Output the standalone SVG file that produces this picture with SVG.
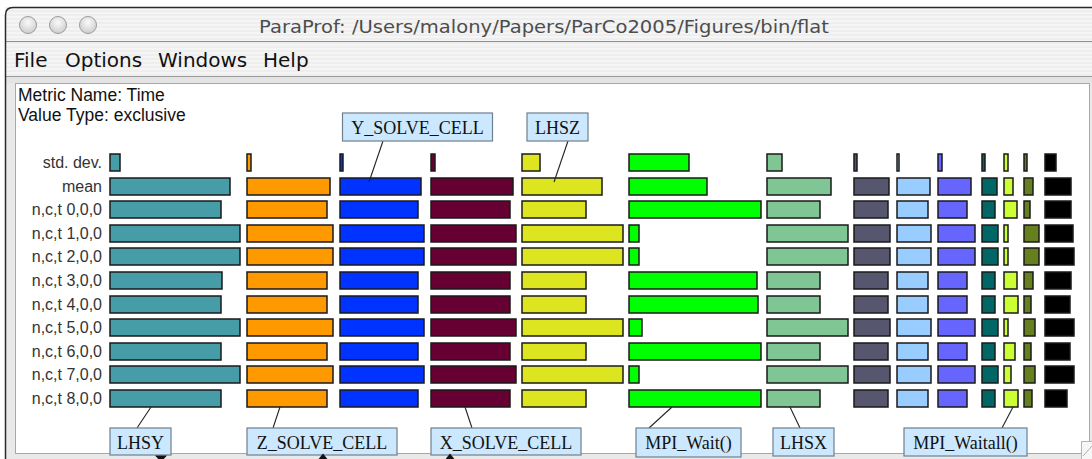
<svg xmlns="http://www.w3.org/2000/svg" width="1092" height="459" viewBox="0 0 1092 459">
  <defs>
    <pattern id="stripes" width="4" height="4" patternUnits="userSpaceOnUse">
      <rect width="4" height="4" fill="#EEEEEE"/>
      <rect width="4" height="2" fill="#F5F5F5"/>
    </pattern>
    <radialGradient id="knob" cx="0.5" cy="0.35" r="0.7">
      <stop offset="0" stop-color="#FAFAFA"/>
      <stop offset="1" stop-color="#C9C9C9"/>
    </radialGradient>
  </defs>
  <style>
    .b { stroke: #1A1A1A; stroke-width: 1.5; }
    .c1 { fill: #479DA7; } .c2 { fill: #FF9900; } .c3 { fill: #0033FF; }
    .c4 { fill: #660033; } .c5 { fill: #DDE520; } .c6 { fill: #00FF00; }
    .c7 { fill: #7FC694; } .c8 { fill: #56566E; } .c9 { fill: #99CCFF; }
    .c10 { fill: #6666FF; } .c11 { fill: #006666; } .c12 { fill: #CCFF33; }
    .c13 { fill: #667F1F; } .c14 { fill: #000000; }
    .row { font-family: "Liberation Sans", Arial, sans-serif; font-size: 16px; fill: #333333; text-anchor: end; }
    .hdr { font-family: "Liberation Sans", Arial, sans-serif; font-size: 17.5px; fill: #111111; }
    .menu { font-family: "DejaVu Sans", sans-serif; font-size: 20px; fill: #111111; }
    .tag rect { fill: #CCE8FF; stroke: #6F7F8C; stroke-width: 1.2; }
    .tag text { font-family: "Liberation Serif", "Times New Roman", serif; font-size: 18px; fill: #111111; text-anchor: middle; }
    .lead { stroke: #222222; stroke-width: 1.1; fill: none; }
  </style>

  <!-- window chrome -->
  <g id="window-frame">
    <rect x="0" y="0" width="1092" height="459" fill="#FFFFFF"/>
    <rect x="5" y="7.5" width="1087" height="452" fill="#E9E9E9"/>
    <rect x="5" y="7.5" width="1087" height="34" fill="url(#stripes)"/>
    <line x1="5" y1="41.5" x2="1092" y2="41.5" stroke="#8E8E8E" stroke-width="1"/>
    <rect x="5" y="42" width="1087" height="34" fill="url(#stripes)"/>
    <line x1="5" y1="76.5" x2="1092" y2="76.5" stroke="#9A9A9A" stroke-width="1"/>
    <rect x="5" y="77" width="1087" height="6" fill="#E4E4E4"/>
    <rect x="15.5" y="83.5" width="1074" height="370" fill="#FFFFFF" stroke="#A8A8A8" stroke-width="1"/>
    <path d="M 5.5 459 V 15 Q 5.5 7.5 13 7.5 H 1092" fill="none" stroke="#2A2A2A" stroke-width="1.5"/>
    <circle cx="28" cy="25" r="8.5" fill="url(#knob)" stroke="#9C9C9C" stroke-width="1"/>
    <circle cx="58" cy="25" r="8.5" fill="url(#knob)" stroke="#9C9C9C" stroke-width="1"/>
    <circle cx="88" cy="25" r="8.5" fill="url(#knob)" stroke="#9C9C9C" stroke-width="1"/>
    <text x="544" y="33" text-anchor="middle" font-family="DejaVu Sans, sans-serif" font-size="17" fill="#4D4D4D" textLength="570" lengthAdjust="spacingAndGlyphs">ParaProf:  /Users/malony/Papers/ParCo2005/Figures/bin/flat</text>
    <text class="menu" x="14" y="67">File</text>
    <text class="menu" x="65" y="67">Options</text>
    <text class="menu" x="158" y="67">Windows</text>
    <text class="menu" x="263" y="67">Help</text>
    <rect x="1081.5" y="441.5" width="12" height="20" fill="#F6F6F6" stroke="#B5B5B5" stroke-width="1"/>
    <line x1="1083" y1="456" x2="1092" y2="446" stroke="#B0B0B0" stroke-width="1"/>
  </g>

  <!-- metric header -->
  <g id="metric-header">
    <text class="hdr" x="18" y="101">Metric Name: Time</text>
    <text class="hdr" x="18" y="121">Value Type: exclusive</text>
  </g>

  <!-- row captions -->
  <g id="row-labels">
    <text class="row" x="102" y="168">std. dev.</text>
    <text class="row" x="102" y="192">mean</text>
    <text class="row" x="102" y="215">n,c,t 0,0,0</text>
    <text class="row" x="102" y="239">n,c,t 1,0,0</text>
    <text class="row" x="102" y="262">n,c,t 2,0,0</text>
    <text class="row" x="102" y="286">n,c,t 3,0,0</text>
    <text class="row" x="102" y="310">n,c,t 4,0,0</text>
    <text class="row" x="102" y="333">n,c,t 5,0,0</text>
    <text class="row" x="102" y="357">n,c,t 6,0,0</text>
    <text class="row" x="102" y="380">n,c,t 7,0,0</text>
    <text class="row" x="102" y="404">n,c,t 8,0,0</text>
  </g>

  <!-- bars, one group per function column -->
  <g id="bars">
    <g id="col-LHSY" class="c1">
      <rect class="b" x="110" y="154" width="10" height="17"/>
      <rect class="b" x="110" y="178" width="120" height="17"/>
      <rect class="b" x="110" y="201" width="111" height="17"/>
      <rect class="b" x="110" y="225" width="130" height="17"/>
      <rect class="b" x="110" y="248" width="130" height="17"/>
      <rect class="b" x="110" y="272" width="112" height="17"/>
      <rect class="b" x="110" y="296" width="111" height="17"/>
      <rect class="b" x="110" y="319" width="130" height="17"/>
      <rect class="b" x="110" y="343" width="111" height="17"/>
      <rect class="b" x="110" y="366" width="130" height="17"/>
      <rect class="b" x="110" y="390" width="111" height="17"/>
    </g>
    <g id="col-Z_SOLVE_CELL" class="c2">
      <rect class="b" x="247" y="154" width="4" height="17"/>
      <rect class="b" x="247" y="178" width="83" height="17"/>
      <rect class="b" x="247" y="201" width="80" height="17"/>
      <rect class="b" x="247" y="225" width="86" height="17"/>
      <rect class="b" x="247" y="248" width="86" height="17"/>
      <rect class="b" x="247" y="272" width="80" height="17"/>
      <rect class="b" x="247" y="296" width="80" height="17"/>
      <rect class="b" x="247" y="319" width="86" height="17"/>
      <rect class="b" x="247" y="343" width="80" height="17"/>
      <rect class="b" x="247" y="366" width="86" height="17"/>
      <rect class="b" x="247" y="390" width="80" height="17"/>
    </g>
    <g id="col-Y_SOLVE_CELL" class="c3">
      <rect class="b" x="340" y="154" width="3" height="17"/>
      <rect class="b" x="340" y="178" width="81" height="17"/>
      <rect class="b" x="340" y="201" width="78" height="17"/>
      <rect class="b" x="340" y="225" width="84" height="17"/>
      <rect class="b" x="340" y="248" width="84" height="17"/>
      <rect class="b" x="340" y="272" width="78" height="17"/>
      <rect class="b" x="340" y="296" width="78" height="17"/>
      <rect class="b" x="340" y="319" width="84" height="17"/>
      <rect class="b" x="340" y="343" width="78" height="17"/>
      <rect class="b" x="340" y="366" width="84" height="17"/>
      <rect class="b" x="340" y="390" width="78" height="17"/>
    </g>
    <g id="col-X_SOLVE_CELL" class="c4">
      <rect class="b" x="431" y="154" width="4" height="17"/>
      <rect class="b" x="431" y="178" width="82" height="17"/>
      <rect class="b" x="431" y="201" width="79" height="17"/>
      <rect class="b" x="431" y="225" width="85" height="17"/>
      <rect class="b" x="431" y="248" width="85" height="17"/>
      <rect class="b" x="431" y="272" width="79" height="17"/>
      <rect class="b" x="431" y="296" width="79" height="17"/>
      <rect class="b" x="431" y="319" width="85" height="17"/>
      <rect class="b" x="431" y="343" width="79" height="17"/>
      <rect class="b" x="431" y="366" width="85" height="17"/>
      <rect class="b" x="431" y="390" width="79" height="17"/>
    </g>
    <g id="col-LHSZ" class="c5">
      <rect class="b" x="522" y="154" width="18" height="17"/>
      <rect class="b" x="522" y="178" width="80" height="17"/>
      <rect class="b" x="522" y="201" width="64" height="17"/>
      <rect class="b" x="522" y="225" width="101" height="17"/>
      <rect class="b" x="522" y="248" width="101" height="17"/>
      <rect class="b" x="522" y="272" width="64" height="17"/>
      <rect class="b" x="522" y="296" width="64" height="17"/>
      <rect class="b" x="522" y="319" width="101" height="17"/>
      <rect class="b" x="522" y="343" width="64" height="17"/>
      <rect class="b" x="522" y="366" width="101" height="17"/>
      <rect class="b" x="522" y="390" width="64" height="17"/>
    </g>
    <g id="col-MPI_Wait" class="c6">
      <rect class="b" x="629" y="154" width="60" height="17"/>
      <rect class="b" x="629" y="178" width="78" height="17"/>
      <rect class="b" x="629" y="201" width="132" height="17"/>
      <rect class="b" x="629" y="225" width="10" height="17"/>
      <rect class="b" x="629" y="248" width="10" height="17"/>
      <rect class="b" x="629" y="272" width="128" height="17"/>
      <rect class="b" x="629" y="296" width="129" height="17"/>
      <rect class="b" x="629" y="319" width="13" height="17"/>
      <rect class="b" x="629" y="343" width="132" height="17"/>
      <rect class="b" x="629" y="366" width="10" height="17"/>
      <rect class="b" x="629" y="390" width="132" height="17"/>
    </g>
    <g id="col-LHSX" class="c7">
      <rect class="b" x="767" y="154" width="15" height="17"/>
      <rect class="b" x="767" y="178" width="64" height="17"/>
      <rect class="b" x="767" y="201" width="53" height="17"/>
      <rect class="b" x="767" y="225" width="81" height="17"/>
      <rect class="b" x="767" y="248" width="81" height="17"/>
      <rect class="b" x="767" y="272" width="53" height="17"/>
      <rect class="b" x="767" y="296" width="53" height="17"/>
      <rect class="b" x="767" y="319" width="81" height="17"/>
      <rect class="b" x="767" y="343" width="53" height="17"/>
      <rect class="b" x="767" y="366" width="81" height="17"/>
      <rect class="b" x="767" y="390" width="53" height="17"/>
    </g>
    <g id="col-8" class="c8">
      <rect class="b" x="854" y="154" width="3" height="17"/>
      <rect class="b" x="854" y="178" width="35" height="17"/>
      <rect class="b" x="854" y="201" width="34" height="17"/>
      <rect class="b" x="854" y="225" width="36" height="17"/>
      <rect class="b" x="854" y="248" width="36" height="17"/>
      <rect class="b" x="854" y="272" width="34" height="17"/>
      <rect class="b" x="854" y="296" width="34" height="17"/>
      <rect class="b" x="854" y="319" width="36" height="17"/>
      <rect class="b" x="854" y="343" width="34" height="17"/>
      <rect class="b" x="854" y="366" width="36" height="17"/>
      <rect class="b" x="854" y="390" width="34" height="17"/>
    </g>
    <g id="col-9" class="c9">
      <rect class="b" x="897" y="154" width="2" height="17"/>
      <rect class="b" x="897" y="178" width="33" height="17"/>
      <rect class="b" x="897" y="201" width="31" height="17"/>
      <rect class="b" x="897" y="225" width="34" height="17"/>
      <rect class="b" x="897" y="248" width="34" height="17"/>
      <rect class="b" x="897" y="272" width="31" height="17"/>
      <rect class="b" x="897" y="296" width="31" height="17"/>
      <rect class="b" x="897" y="319" width="34" height="17"/>
      <rect class="b" x="897" y="343" width="31" height="17"/>
      <rect class="b" x="897" y="366" width="34" height="17"/>
      <rect class="b" x="897" y="390" width="31" height="17"/>
    </g>
    <g id="col-10" class="c10">
      <rect class="b" x="938" y="154" width="4" height="17"/>
      <rect class="b" x="938" y="178" width="33" height="17"/>
      <rect class="b" x="938" y="201" width="29" height="17"/>
      <rect class="b" x="938" y="225" width="37" height="17"/>
      <rect class="b" x="938" y="248" width="37" height="17"/>
      <rect class="b" x="938" y="272" width="29" height="17"/>
      <rect class="b" x="938" y="296" width="29" height="17"/>
      <rect class="b" x="938" y="319" width="37" height="17"/>
      <rect class="b" x="938" y="343" width="29" height="17"/>
      <rect class="b" x="938" y="366" width="37" height="17"/>
      <rect class="b" x="938" y="390" width="29" height="17"/>
    </g>
    <g id="col-11" class="c11">
      <rect class="b" x="982" y="154" width="3" height="17"/>
      <rect class="b" x="982" y="178" width="15" height="17"/>
      <rect class="b" x="982" y="201" width="13" height="17"/>
      <rect class="b" x="982" y="225" width="16" height="17"/>
      <rect class="b" x="982" y="248" width="16" height="17"/>
      <rect class="b" x="982" y="272" width="13" height="17"/>
      <rect class="b" x="982" y="296" width="13" height="17"/>
      <rect class="b" x="982" y="319" width="16" height="17"/>
      <rect class="b" x="982" y="343" width="13" height="17"/>
      <rect class="b" x="982" y="366" width="16" height="17"/>
      <rect class="b" x="982" y="390" width="13" height="17"/>
    </g>
    <g id="col-MPI_Waitall" class="c12">
      <rect class="b" x="1004" y="154" width="4" height="17"/>
      <rect class="b" x="1004" y="178" width="9" height="17"/>
      <rect class="b" x="1004" y="201" width="13" height="17"/>
      <rect class="b" x="1004" y="225" width="4" height="17"/>
      <rect class="b" x="1004" y="248" width="4" height="17"/>
      <rect class="b" x="1004" y="272" width="13" height="17"/>
      <rect class="b" x="1004" y="296" width="14" height="17"/>
      <rect class="b" x="1004" y="319" width="4" height="17"/>
      <rect class="b" x="1004" y="343" width="11" height="17"/>
      <rect class="b" x="1004" y="366" width="7" height="17"/>
      <rect class="b" x="1004" y="390" width="14" height="17"/>
    </g>
    <g id="col-13" class="c13">
      <rect class="b" x="1024" y="154" width="3" height="17"/>
      <rect class="b" x="1024" y="178" width="9" height="17"/>
      <rect class="b" x="1024" y="201" width="6" height="17"/>
      <rect class="b" x="1024" y="225" width="15" height="17"/>
      <rect class="b" x="1024" y="248" width="15" height="17"/>
      <rect class="b" x="1024" y="272" width="9" height="17"/>
      <rect class="b" x="1024" y="296" width="7" height="17"/>
      <rect class="b" x="1024" y="319" width="11" height="17"/>
      <rect class="b" x="1024" y="343" width="7" height="17"/>
      <rect class="b" x="1024" y="366" width="11" height="17"/>
      <rect class="b" x="1024" y="390" width="8" height="17"/>
    </g>
    <g id="col-14" class="c14">
      <rect class="b" x="1045" y="154" width="11" height="17"/>
      <rect class="b" x="1045" y="178" width="26" height="17"/>
      <rect class="b" x="1045" y="201" width="26" height="17"/>
      <rect class="b" x="1045" y="225" width="28" height="17"/>
      <rect class="b" x="1045" y="248" width="29" height="17"/>
      <rect class="b" x="1045" y="272" width="26" height="17"/>
      <rect class="b" x="1045" y="296" width="25" height="17"/>
      <rect class="b" x="1045" y="319" width="29" height="17"/>
      <rect class="b" x="1045" y="343" width="25" height="17"/>
      <rect class="b" x="1045" y="366" width="29" height="17"/>
      <rect class="b" x="1045" y="390" width="22" height="17"/>
    </g>
  </g>

  <!-- leader lines from callouts to their bars -->
  <g id="connectors">
    <line class="lead" x1="383" y1="141" x2="369" y2="182"/>
    <line class="lead" x1="568" y1="141" x2="554" y2="182"/>
    <line class="lead" x1="151" y1="407" x2="137" y2="428"/>
    <line class="lead" x1="280" y1="407" x2="273" y2="428"/>
    <line class="lead" x1="465" y1="407" x2="472" y2="428"/>
    <line class="lead" x1="672" y1="407" x2="649" y2="428"/>
    <line class="lead" x1="790" y1="407" x2="800" y2="428"/>
    <line class="lead" x1="1013" y1="407" x2="1002" y2="428"/>
  </g>

  <!-- callout tags -->
  <g id="tag-Y_SOLVE_CELL" class="tag">
    <rect x="342.5" y="113" width="150" height="28"/>
    <text x="417.5" y="134">Y_SOLVE_CELL</text>
  </g>
  <g id="tag-LHSZ" class="tag">
    <rect x="527" y="113" width="61" height="28"/>
    <text x="557.5" y="134">LHSZ</text>
  </g>
  <g id="tag-LHSY" class="tag">
    <rect x="110" y="428" width="61" height="27"/>
    <text x="140.5" y="449">LHSY</text>
  </g>
  <g id="tag-Z_SOLVE_CELL" class="tag">
    <rect x="247" y="428" width="150" height="27"/>
    <text x="322" y="449">Z_SOLVE_CELL</text>
  </g>
  <g id="tag-X_SOLVE_CELL" class="tag">
    <rect x="431" y="428" width="150" height="27"/>
    <text x="506" y="449">X_SOLVE_CELL</text>
  </g>
  <g id="tag-MPI_Wait" class="tag">
    <rect x="636" y="428" width="105" height="29"/>
    <text x="688.5" y="449">MPI_Wait()</text>
  </g>
  <g id="tag-LHSX" class="tag">
    <rect x="773" y="428" width="61" height="28"/>
    <text x="803.5" y="449">LHSX</text>
  </g>
  <g id="tag-MPI_Waitall" class="tag">
    <rect x="904" y="428" width="123" height="28"/>
    <text x="965.5" y="449">MPI_Waitall()</text>
  </g>

  <!-- arrow tips running off the bottom edge -->
  <g id="edge-arrows" fill="#111111">
    <polygon points="155,455.5 167,455.5 161,462"/>
    <polygon points="323,453.5 317,461 329,461"/>
    <polygon points="450,453.5 444,461 456,461"/>
  </g>
</svg>
